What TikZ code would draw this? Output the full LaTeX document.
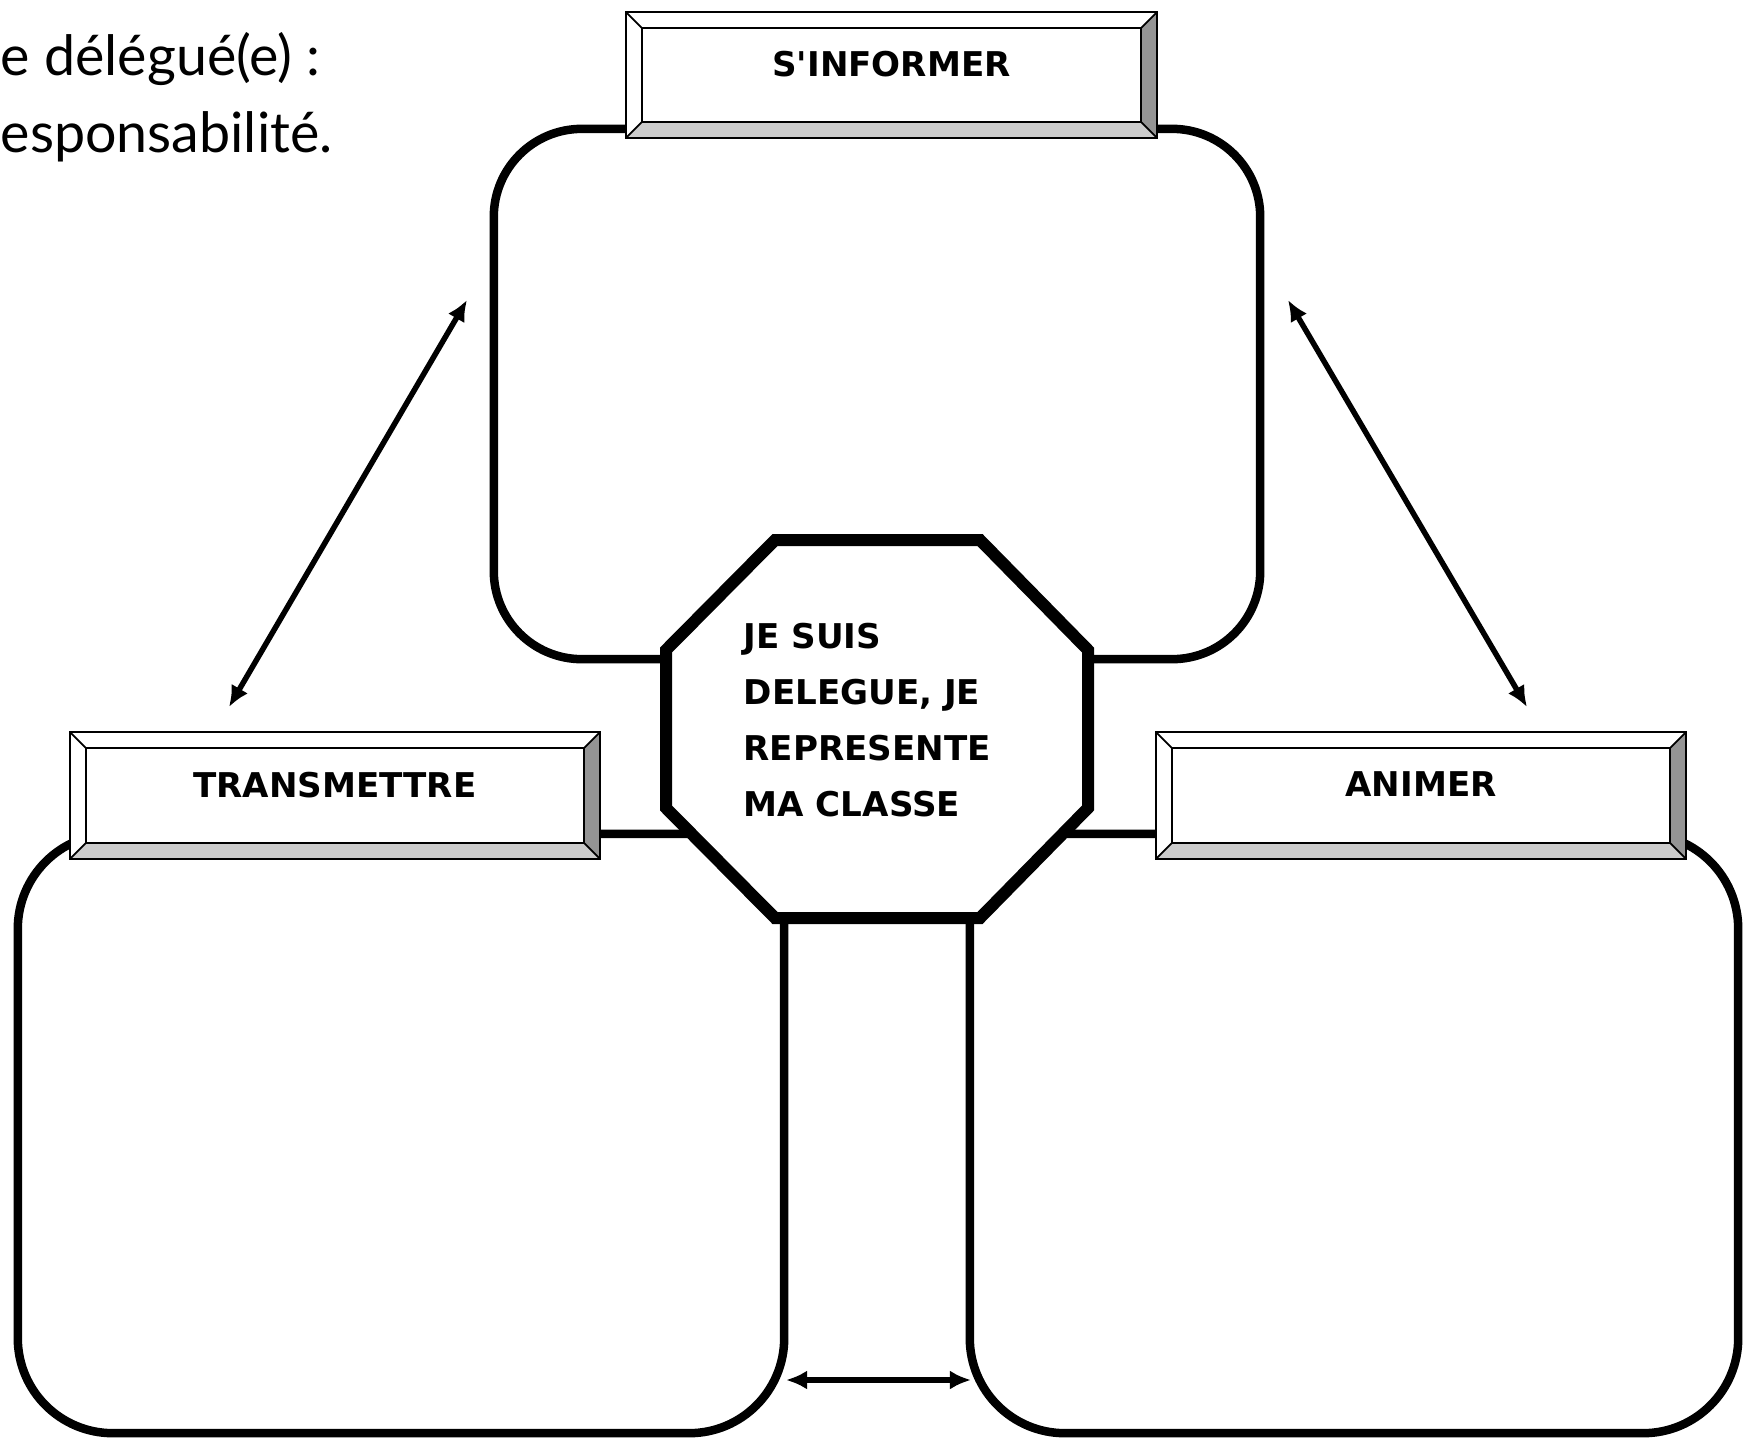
\documentclass[tikz,border=0pt]{standalone}
\usepackage{fontspec}
\setmainfont{DejaVu Sans}
\newfontfamily\handfont{Lato}
\usetikzlibrary{calc,arrows.meta}
\tikzset{>={Latex[length=0.21cm,width=0.19cm]}}
\tikzset{
  cadre/.style={draw,fill=white,line width=0.085cm,inner sep=0pt,outer sep=0pt},
  etiquette/.style={draw,fill=white,line width=0.6pt,inner sep=0pt,outer sep=0pt,
    minimum width=5.3cm,minimum height=1.27cm,text depth=0.22cm,
    font=\bfseries\fontsize{9.7}{11}\selectfont},
  octo/.style={draw,fill=white,line width=0.12cm},
  fleche/.style={<->,line width=0.055cm},
  titre/.style={inner sep=0pt,font=\handfont\fontsize{15.8}{20}\selectfont}
}
\newcommand\biseau[1]{%
  \fill[black!20] (#1.south west) -- (#1.south east) -- ($(#1.south east)+(-16,-16)$) -- ($(#1.south west)+(16,-16)$) -- cycle;
  \fill[black!42] (#1.south east) -- (#1.north east) -- ($(#1.north east)+(-16,16)$) -- ($(#1.south east)+(-16,-16)$) -- cycle;
  \draw[line width=0.5pt] ($(#1.north west)+(16,16)$) rectangle ($(#1.south east)+(-16,-16)$);
  \foreach \coin/\dx/\dy in {north west/16/16,north east/-16/16,south west/16/-16,south east/-16/-16}
    \draw[line width=0.5pt] (#1.\coin) -- ++(\dx,\dy);
  \draw[line width=0.6pt] (#1.north west) rectangle (#1.south east);
}

\begin{document}
\begin{tikzpicture}[x=0.01cm,y=-0.01cm]
  \useasboundingbox (0,0) rectangle (1751,1439);

  \node[titre,anchor=base west] (ligne1) at (0,75) {e délégué(e) :};
  \node[titre,anchor=base west] (ligne2) at (0,152) {esponsabilité.};

  \node[cadre,minimum width=7.66cm,minimum height=5.30cm,rounded corners=0.88cm] (info) at (877,394) {};
  \node[cadre,minimum width=7.66cm,minimum height=5.99cm,rounded corners=0.95cm] (trans) at (401,1133.5) {};
  \node[cadre,minimum width=7.68cm,minimum height=5.99cm,rounded corners=0.95cm] (anim) at (1354,1133.5) {};

  \node[etiquette,minimum width=5.31cm,minimum height=1.26cm] (info-titre) at (891.5,75) {S\textquotesingle INFORMER};
  \node[etiquette] (trans-titre) at (335,795.5) {TRANSMETTRE};
  \node[etiquette] (anim-titre) at (1421,795.5) {ANIMER};
  \biseau{info-titre}
  \biseau{trans-titre}
  \biseau{anim-titre}

  \draw[octo] (775,540) -- (980,540) -- (1088,650) -- (1088,808) -- (980,918) -- (775,918) -- (666,808) -- (666,650) -- cycle;
  \node[anchor=west,align=left,inner sep=0pt,font=\bfseries\fontsize{9.7}{15.9}\selectfont] (delegue) at (743,720)
    {JE SUIS\\DELEGUE, JE\\REPRESENTE\\MA CLASSE};

  \coordinate (g-haut) at (467,300);
  \coordinate (g-bas) at (229,707);
  \coordinate (d-haut) at (1288,300);
  \coordinate (d-bas) at (1527,707);
  \coordinate (b-gauche) at (786,1380);
  \coordinate (b-droite) at (971,1380);
  \draw[fleche] (g-haut) -- (g-bas);
  \draw[fleche] (d-haut) -- (d-bas);
  \draw[fleche] (b-gauche) -- (b-droite);
\end{tikzpicture}
\end{document}
